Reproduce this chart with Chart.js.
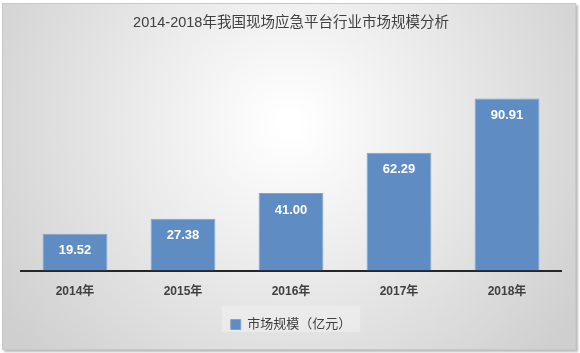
<!DOCTYPE html>
<html>
<head>
<meta charset="utf-8">
<script src="https://cdn.jsdelivr.net/npm/chart.js@4/dist/chart.umd.min.js"></script>
<style>
  body { margin: 0; background: #fff; }
  #box { position: absolute; left: 2px; top: 3px; width: 572px; height: 345px; border: 1px solid #c8c8c8; box-shadow: 2px 2px 2px #bbb; }
</style>
</head>
<body>
<div id="box"><canvas id="MarketChart"></canvas></div>
<script>
var years = ['2014年', '2015年', '2016年', '2017年', '2018年'];
var marketSize = [19.52, 27.38, 41.00, 62.29, 90.91];
var seriesName = '市场规模（亿元）';
var chartTitle = '2014-2018年我国现场应急平台行业市场规模分析';

var fontFamily = '"Liberation Sans", "Noto Sans CJK SC", sans-serif';

// 배경 그라데이션 + 범례 배경
var bgPlugin = {
  id: 'bgPlugin',
  beforeDraw: function(chart) {
    var c = chart.ctx;
    var w = chart.width, h = chart.height;
    var g = c.createRadialGradient(w / 2, h * 0.35, 10, w / 2, h * 0.35, w * 0.6);
    g.addColorStop(0, '#ffffff');
    g.addColorStop(1, '#cfcfcf');
    c.save();
    c.fillStyle = g;
    c.fillRect(0, 0, w, h);
    var lg = chart.legend;
    if (lg) {
      c.fillStyle = 'rgba(235,235,235,0.9)';
      c.fillRect(lg.left + (lg.width - lg.legendHitBoxes[0].width) / 2 - 9, lg.top + 1, lg.legendHitBoxes[0].width + 18, 26);
    }
    c.restore();
  }
};

// 막대 안의 값 표시
var labelPlugin = {
  id: 'labelPlugin',
  afterDatasetsDraw: function(chart) {
    var c = chart.ctx;
    var meta = chart.getDatasetMeta(0);
    c.save();
    c.fillStyle = '#ffffff';
    c.font = 'bold 13px ' + fontFamily;
    c.textAlign = 'center';
    c.textBaseline = 'middle';
    meta.data.forEach(function(bar, i) {
      c.fillText(marketSize[i].toFixed(2), bar.x, bar.y + 17);
    });
    c.restore();
  }
};

var ctx = document.getElementById('MarketChart');
var MarketChart = new Chart(ctx, {
  type: 'bar',
  data: {
    labels: years,
    datasets: [{
      label: seriesName,
      data: marketSize,
      backgroundColor: '#5f8dc3',
      borderColor: '#7ea3d0',
      borderWidth: 1,
      categoryPercentage: 0.6,
      barPercentage: 1
    }]
  },
  options: {
    responsive: true,
    maintainAspectRatio: false,
    animation: false,
    layout: { padding: { left: 18, right: 14, top: 0, bottom: 8 } },
    plugins: {
      title: {
        display: true,
        text: chartTitle,
        color: '#404040',
        font: { family: fontFamily, size: 14.5, weight: 'normal' },
        padding: { top: 10, bottom: 50 }
      },
      legend: {
        position: 'bottom',
        labels: {
          boxWidth: 10,
          boxHeight: 10,
          color: '#404040',
          font: { family: fontFamily, size: 13 },
          padding: 13
        }
      },
      tooltip: { enabled: false }
    },
    scales: {
      x: {
        grid: { display: false },
        border: { display: true, color: '#262626', width: 2 },
        ticks: { color: '#404040', font: { family: fontFamily, size: 12, weight: 'bold' }, padding: 6 }
      },
      y: {
        display: false,
        min: 0,
        max: 100
      }
    }
  },
  plugins: [bgPlugin, labelPlugin]
});
</script>
</body>
</html>
